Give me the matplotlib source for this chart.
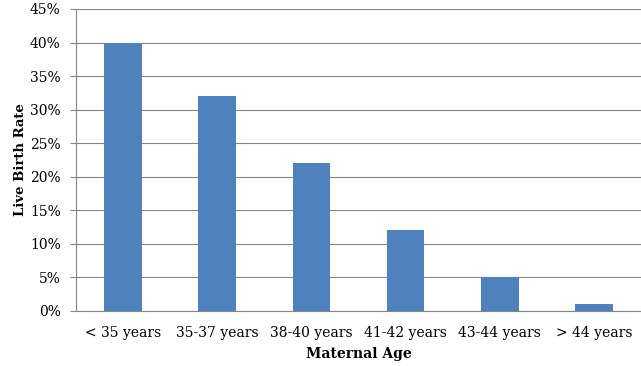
import matplotlib
matplotlib.use("Agg")
import matplotlib.pyplot as plt
from matplotlib.ticker import MultipleLocator, FuncFormatter

age_groups = ["< 35 years", "35-37 years", "38-40 years", "41-42 years", "43-44 years", "> 44 years"]
live_birth_rate = [40, 32, 22, 12, 5, 1]

plt.rcParams["font.family"] = ["DejaVu Serif"]

fig = plt.figure(figsize=(6.41, 3.66), dpi=100)
ax = fig.add_axes([76 / 641, 1 - 311 / 366, (641 - 76) / 641, (311 - 9) / 366])

x = range(len(age_groups))
ax.bar(x, live_birth_rate, width=0.4, color="#4F81BD", zorder=3)

ax.set_xlim(-0.5, len(age_groups) - 0.5)
ax.set_ylim(0, 45)
ax.yaxis.set_major_locator(MultipleLocator(5))
ax.yaxis.set_major_formatter(FuncFormatter(lambda v, _: f"{v:.0f}%"))
ax.set_xticks(list(x))
ax.set_xticklabels(age_groups)

ax.grid(axis="y", color="#868686", linewidth=0.8, zorder=0)
for side in ("top", "right"):
    ax.spines[side].set_visible(False)
for side in ("left", "bottom"):
    ax.spines[side].set_color("#868686")
    ax.spines[side].set_linewidth(0.8)
ax.tick_params(axis="y", length=4, color="#868686", labelsize=10, pad=7)
ax.tick_params(axis="x", length=0, labelsize=10, pad=11)

ax.set_xlabel("Maternal Age", fontsize=10, fontweight="bold", labelpad=5)
ax.set_ylabel("Live Birth Rate", fontsize=9.5, fontweight="bold", labelpad=2)

fig.savefig("out.png", dpi=100)
